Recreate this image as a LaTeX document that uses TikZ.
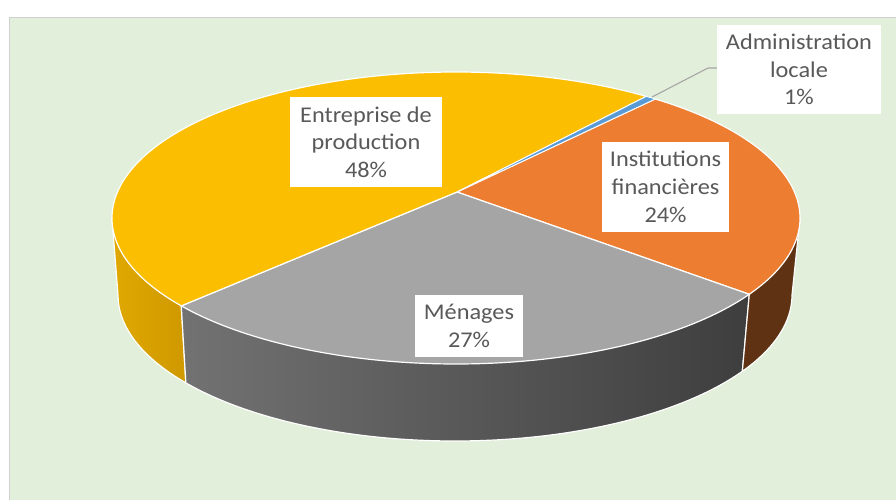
\documentclass[tikz,border=0pt]{standalone}
\usepackage{fontspec}
\setmainfont{Carlito}[FakeStretch=1.08]
\usetikzlibrary{calc}
\definecolor{bggreen}{HTML}{E2EFDA}
\definecolor{bgborder}{HTML}{D0D0D0}
\definecolor{cyellow}{HTML}{FBBE00}
\definecolor{corange}{HTML}{ED7D31}
\definecolor{cgray}{HTML}{A5A5A5}
\definecolor{cblue}{HTML}{5B9BD5}
\definecolor{cbrown}{HTML}{5E3213}
\definecolor{ysideL}{HTML}{E0A800}
\definecolor{ysideR}{HTML}{CF9900}
\definecolor{gsideL}{HTML}{8C8C8C}
\definecolor{gsideR}{HTML}{3E3E3E}
\definecolor{txtgray}{HTML}{595959}
\definecolor{leadgray}{HTML}{A6A6A6}
\pgfdeclarehorizontalshading{grayside}{100bp}{color(0bp)=(gsideL); color(75bp)=(gsideR); color(100bp)=(gsideR)}
\tikzset{
  face/.style={draw=white, line width=1.2pt, line join=round},
  lbl/.style={fill=white, text=txtgray, inner sep=0pt, align=center,
    font=\fontsize{22.5}{27.7}\selectfont},
  leader/.style={draw=leadgray, line width=1.1pt}
}
\begin{document}
\begin{tikzpicture}[x=1pt,y=-1pt]
\useasboundingbox (0,0) rectangle (896,500);
\fill[white] (0,0) rectangle (896,500);
\fill[bggreen, draw=bgborder, line width=1pt] (9.5,17.5) rectangle (897,501);
% centres
\coordinate (C) at (456,218);
\coordinate (B) at (455,295);
\coordinate (A) at (457,192);
\coordinate (T0) at ($(C)+(0:344 and 146)$);
\coordinate (T31) at ($(C)+(31.5:344 and 146)$);
\coordinate (T143) at ($(C)+(143:344 and 146)$);
\coordinate (T180) at ($(C)+(180:344 and 146)$);
\coordinate (T3036) at ($(C)+(303.6:344 and 146)$);
\coordinate (T3054) at ($(C)+(305.4:344 and 146)$);
\coordinate (B0) at ($(B)+(0:337 and 146)$);
\coordinate (B31) at ($(B)+(31.5:337 and 146)$);
\coordinate (B143) at ($(B)+(143:337 and 146)$);
% side faces
\path[face, left color=ysideL, right color=ysideR] (B143) arc[start angle=143, end angle=180, x radius=337, y radius=146] -- (T180) -- (T143) -- cycle;
\path[face, shading=grayside] (B31) arc[start angle=31.5, end angle=143, x radius=337, y radius=146] -- (T143) -- (T31) -- cycle;
\path[face, fill=cbrown] (B0) arc[start angle=0, end angle=31.5, x radius=337, y radius=146] -- (T31) -- (T0) -- cycle;
% top faces
\path[face, fill=corange] (A) -- (T3054) arc[start angle=-54.6, end angle=31.5, x radius=344, y radius=146] -- cycle;
\path[face, fill=cgray] (A) -- (T31) arc[start angle=31.5, end angle=143, x radius=344, y radius=146] -- cycle;
\path[face, fill=cyellow] (A) -- (T143) arc[start angle=143, end angle=303.6, x radius=344, y radius=146] -- cycle;
\path[face, fill=cblue, line width=0.8pt] (A) -- (T3036) arc[start angle=303.6, end angle=305.4, x radius=344, y radius=146] -- cycle;
% labels
\node[lbl, minimum width=152pt, minimum height=90pt] (ent) at (366,142) {Entreprise de\\production\\48\%};
\node[lbl, minimum width=127pt, minimum height=90pt] (inst) at (665.5,187) {Institutions\\financières\\24\%};
\node[lbl, minimum width=108pt, minimum height=62pt] (men) at (469,326) {Ménages\\27\%};
\node[lbl, minimum width=164pt, minimum height=89pt] (adm) at (799,69.5) {Administration\\locale\\1\%};
% leader
\coordinate (L0) at (652,97);
\coordinate (L1) at (708,68);
\draw[leader] (L0) -- (L1) -- (L1 -| adm.west);
\end{tikzpicture}
\end{document}
